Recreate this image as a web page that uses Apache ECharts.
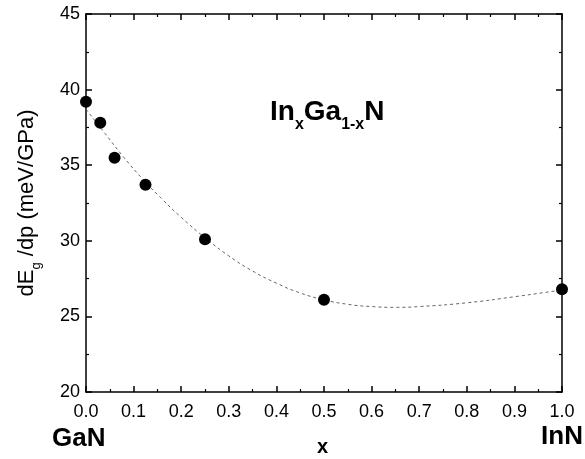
<!DOCTYPE html>
<html>
<head>
<meta charset="utf-8">
<script src="https://cdn.jsdelivr.net/npm/echarts@6/dist/echarts.min.js"></script>
<style>html,body{margin:0;padding:0;background:#fff}#c{width:585px;height:459px}</style>
</head>
<body>
<div id="c"></div>
<script>
// Measured points: x (In fraction), dEg/dp (meV/GPa)
const pointX = [0.0, 0.03, 0.06, 0.125, 0.25, 0.5, 1.0];
const pointY = [39.2, 37.8, 35.5, 33.7, 30.1, 26.1, 26.8];
// Dashed fit curve
const curveX = [0.0, 0.04, 0.08, 0.12, 0.16, 0.20, 0.25, 0.30, 0.35, 0.40, 0.45, 0.50, 0.55, 0.60, 0.65, 0.70, 0.80, 0.90, 1.0];
const curveY = [38.7, 37.1, 35.5, 34.05, 32.75, 31.55, 30.2, 29.0, 28.0, 27.2, 26.55, 26.1, 25.8, 25.65, 25.6, 25.65, 25.9, 26.3, 26.75];
const xTicks = ['0.0','0.1','0.2','0.3','0.4','0.5','0.6','0.7','0.8','0.9','1.0'];
const yTicks = ['20','25','30','35','40','45'];

const FONT = 'Liberation Sans, Arial, sans-serif';
const chart = echarts.init(document.getElementById('c'), null, {renderer: 'canvas'});
const axisLine = {show: true, onZero: false, lineStyle: {color: '#000', width: 1.5}};
const axisTick = {show: true, inside: true, length: 6, lineStyle: {color: '#000', width: 1.5}};
const minorTick = {show: true, splitNumber: 2, length: 3, lineStyle: {color: '#000', width: 1.2}};
chart.setOption({
  animation: false,
  backgroundColor: '#fff',
  grid: {left: 86, top: 14, right: 23, bottom: 67, containLabel: false},
  xAxis: [{
    type: 'value', min: 0, max: 1, interval: 0.1, position: 'bottom',
    axisLine, axisTick, minorTick, splitLine: {show: false},
    axisLabel: {color: '#000', fontFamily: FONT, fontSize: 18, margin: 11,
      formatter: v => xTicks[Math.round(v * 10)]}
  }, {
    type: 'value', min: 0, max: 1, interval: 0.1, position: 'top',
    axisLine, axisTick, minorTick, splitLine: {show: false}, axisLabel: {show: false}
  }],
  yAxis: [{
    type: 'value', min: 20, max: 45, interval: 5, position: 'left',
    axisLine, axisTick, minorTick, splitLine: {show: false},
    axisLabel: {color: '#000', fontFamily: FONT, fontSize: 18, margin: 6,
      formatter: v => yTicks[Math.round((v - 20) / 5)]},
    name: '{n|dE}{s|g}{n| /dp (meV/GPa)}',
    nameLocation: 'middle', nameGap: 46, nameRotate: 90,
    nameTextStyle: {
      rich: {
        n: {fontFamily: FONT, fontSize: 22, color: '#000', lineHeight: 26, verticalAlign: 'middle'},
        s: {fontFamily: FONT, fontSize: 13, color: '#000', lineHeight: 26, verticalAlign: 'bottom', padding: [0, 0, -3, 0]}
      }
    }
  }, {
    type: 'value', min: 20, max: 45, interval: 5, position: 'right',
    axisLine, axisTick, minorTick, splitLine: {show: false}, axisLabel: {show: false}
  }],
  graphic: [
    {type: 'text', left: 52, top: 426,
      style: {text: 'GaN', font: 'bold 26px ' + FONT, fill: '#000'}},
    {type: 'text', right: 2, top: 424,
      style: {text: 'InN', font: 'bold 26px ' + FONT, fill: '#000'}},
    {type: 'text', left: 317, top: 437,
      style: {text: 'x', font: 'bold 20px ' + FONT, fill: '#000'}},
    {type: 'text', left: 270, top: 98,
      style: {
        text: '{b|In}{s|x}{b|Ga}{s|1-x}{b|N}',
        rich: {
          b: {font: 'bold 28px ' + FONT, fill: '#000', lineHeight: 32, verticalAlign: 'middle'},
          s: {font: 'bold 16px ' + FONT, fill: '#000', lineHeight: 32, verticalAlign: 'bottom', padding: [0, 0, -5, 0]}
        }
      }}
  ],
  series: [{
    type: 'line', xAxisIndex: 0, yAxisIndex: 0,
    data: curveX.map((x, i) => [x, curveY[i]]),
    smooth: true, showSymbol: false, symbol: 'none',
    lineStyle: {color: '#555', width: 0.9, type: [3, 3]},
    z: 1
  }, {
    type: 'scatter', xAxisIndex: 0, yAxisIndex: 0,
    data: pointX.map((x, i) => [x, pointY[i]]),
    symbol: 'circle', symbolSize: 12, clip: true,
    itemStyle: {color: '#000', opacity: 1},
    z: 2
  }]
});
</script>
</body>
</html>
